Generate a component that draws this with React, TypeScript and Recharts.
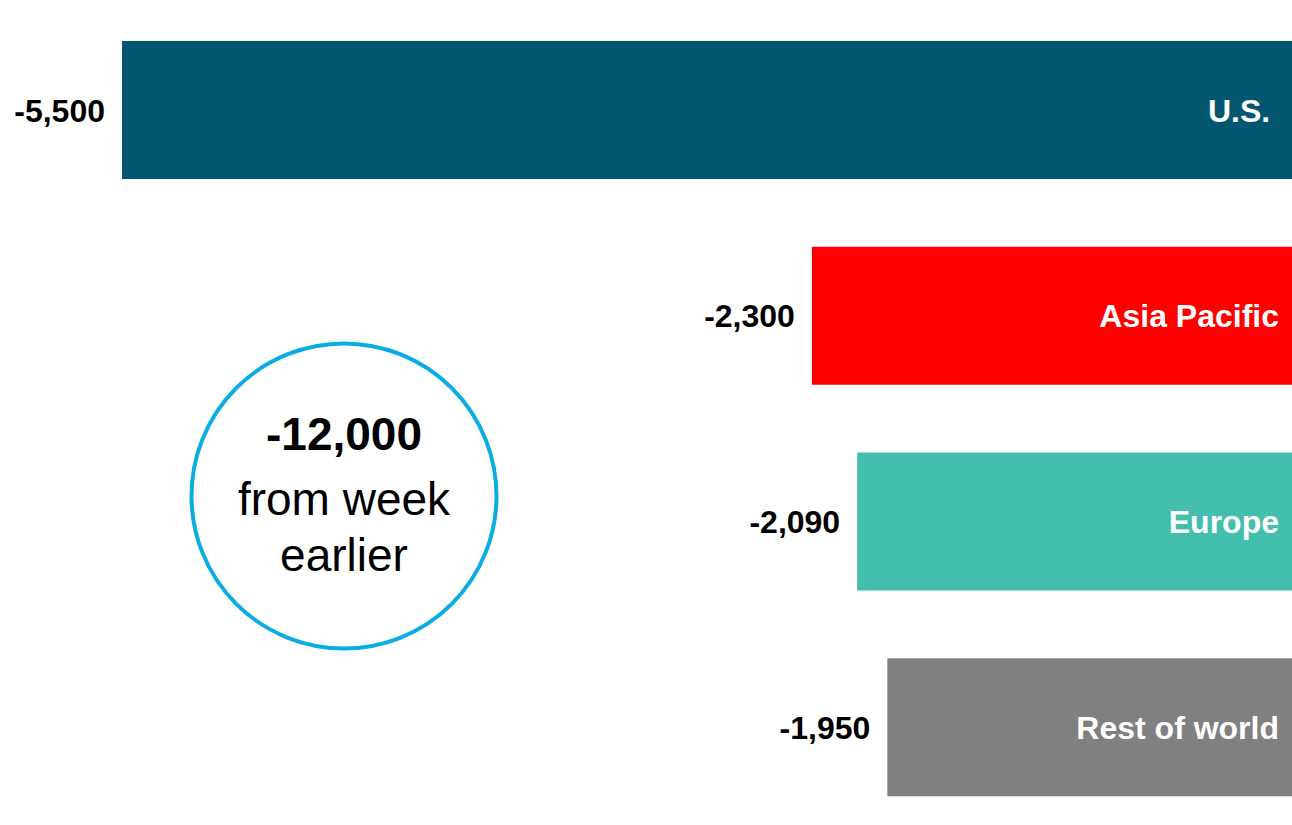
import React from "react";
import { BarChart, Bar, XAxis, YAxis, Cell, LabelList, Customized } from "recharts";

const regions = ["U.S. ", "Asia Pacific", "Europe", "Rest of world"];
const changes = [-5500, -2300, -2090, -1950];
const barColors = ["#025670", "#FF0000", "#45BFAD", "#808080"];
const totalLabel = "-12,000";
const circleLines = ["from week", "earlier"];
const xDomain = [-5500, -73];

const data = regions.map((name, i) => ({ name, value: changes[i] }));

const FONT = "'Liberation Sans', Arial, Helvetica, sans-serif";

const fmt = (v: number) => (v < 0 ? "-" : "") + Math.abs(v).toLocaleString("en-US");

const ValueLabel = (props: any) => {
  const { x, y, width, height, value } = props;
  const left = Math.min(x, x + width);
  return (
    <text
      x={left - 17}
      y={y + height / 2}
      dy="0.36em"
      textAnchor="end"
      fill="#000"
      fontFamily={FONT}
      fontWeight="bold"
      fontSize={32}
    >
      {fmt(value)}
    </text>
  );
};

const NameLabel = (props: any) => {
  const { x, y, width, height, value } = props;
  const right = Math.max(x, x + width);
  return (
    <text
      x={right - 13}
      y={y + height / 2}
      dy="0.36em"
      textAnchor="end"
      fill="#fff"
      fontFamily={FONT}
      fontWeight="bold"
      fontSize={32}
      style={{ whiteSpace: "pre" }}
    >
      {value}
    </text>
  );
};

const TotalCircle = () => (
  <g>
    <circle cx={344} cy={496} r={152.5} fill="none" stroke="#0AADE2" strokeWidth={4} />
    <text x={344} y={450} textAnchor="middle" fontFamily={FONT} fontWeight="bold" fontSize={46} fill="#000">
      {totalLabel}
    </text>
    <text x={344} y={515} textAnchor="middle" fontFamily={FONT} fontSize={46} fill="#000">
      {circleLines[0]}
    </text>
    <text x={344} y={571} textAnchor="middle" fontFamily={FONT} fontSize={46} fill="#000">
      {circleLines[1]}
    </text>
  </g>
);

export default function App() {
  return (
    <div
      style={{
        position: "absolute",
        left: 0,
        top: 0,
        width: 1292,
        height: 825,
        overflow: "hidden",
        background: "#fff",
      }}
    >
      <BarChart
        width={1292}
        height={830}
        data={data}
        layout="vertical"
        margin={{ top: 7, right: 0, bottom: 0, left: 122 }}
        barSize={138}
      >
        <XAxis type="number" domain={xDomain} allowDataOverflow hide />
        <YAxis type="category" dataKey="name" hide />
        <Bar dataKey="value" isAnimationActive={false}>
          {data.map((d, i) => (
            <Cell key={d.name} fill={barColors[i]} />
          ))}
          <LabelList dataKey="value" content={ValueLabel} />
          <LabelList dataKey="name" content={NameLabel} />
        </Bar>
        <Customized component={TotalCircle} />
      </BarChart>
    </div>
  );
}
